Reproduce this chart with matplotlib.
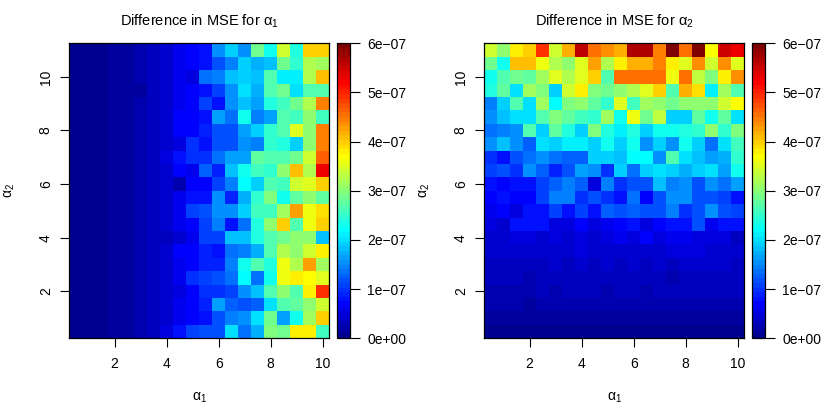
import numpy as np
import matplotlib
matplotlib.use('Agg')
import matplotlib.pyplot as plt
from matplotlib.colors import ListedColormap, Normalize

plt.rcParams['font.family'] = ['Liberation Sans', 'DejaVu Sans']
plt.rcParams['mathtext.fontset'] = 'custom'
plt.rcParams['mathtext.rm'] = 'Liberation Sans'
plt.rcParams['mathtext.it'] = 'Liberation Sans'
plt.rcParams['mathtext.bf'] = 'Liberation Sans'

# ---------------- data ----------------
alpha1 = [0.5, 1.0, 1.5, 2.0, 2.5, 3.0, 3.5, 4.0, 4.5, 5.0,
          5.5, 6.0, 6.5, 7.0, 7.5, 8.0, 8.5, 9.0, 9.5, 10.0]
alpha2 = [0.5, 1.0, 1.5, 2.0, 2.5, 3.0, 3.5, 4.0, 4.5, 5.0, 5.5,
          6.0, 6.5, 7.0, 7.5, 8.0, 8.5, 9.0, 9.5, 10.0, 10.5, 11.0]
value_unit = 1e-7

# rows listed from top (alpha2 = 11) to bottom (alpha2 = 0.5), values in units of 1e-7
mse_diff_alpha1 = [
    [0.05,0.05,0.07,0.1,0.15,0.22,0.3,0.45,0.6,0.72,0.82,1.5,1.88,1.58,2.85,2.25,3.45,2.4,3.98,4.02],
    [0.05,0.05,0.07,0.1,0.15,0.22,0.3,0.42,0.6,0.72,0.75,1.13,1.43,1.95,1.73,1.8,2.85,2.48,3.23,3.15],
    [0.05,0.05,0.07,0.1,0.14,0.2,0.3,0.42,0.58,0.5,1.35,1.43,1.8,1.95,1.8,2.7,2.1,2.1,3.23,4.1],
    [0.05,0.05,0.07,0.1,0.14,0.18,0.3,0.4,0.58,0.68,0.83,1.05,1.5,2.03,1.73,2.7,2.85,2.03,2.63,2.63],
    [0.05,0.05,0.07,0.1,0.15,0.2,0.3,0.45,0.6,0.7,1.05,0.8,1.5,1.8,1.65,2.4,2.55,2.85,3.23,4.43],
    [0.05,0.05,0.07,0.1,0.15,0.2,0.3,0.45,0.7,0.68,0.75,1.65,1.35,2.25,1.43,1.65,2.63,2.55,3.08,2.55],
    [0.05,0.05,0.07,0.1,0.14,0.2,0.3,0.45,0.68,0.72,0.9,1.2,1.13,1.65,1.95,2.48,2.7,3.53,3.08,4.43],
    [0.05,0.05,0.07,0.1,0.14,0.2,0.3,0.4,0.55,0.95,0.83,1.2,1.13,1.5,1.43,2.48,2.4,1.95,3.08,4.43],
    [0.05,0.05,0.07,0.1,0.14,0.2,0.35,0.5,0.78,0.95,0.95,1.35,1.65,1.65,2.78,2.7,2.7,2.85,3.38,4.65],
    [0.05,0.05,0.07,0.1,0.15,0.2,0.3,0.45,0.68,0.6,1.28,0.9,1.8,2.25,2.55,2.48,3.08,4.05,3.23,5.25],
    [0.05,0.05,0.07,0.1,0.14,0.2,0.3,0.45,0.2,0.68,0.7,1.05,1.43,2.2,1.95,2.7,2.55,3.38,3.53,3.98],
    [0.05,0.05,0.07,0.1,0.14,0.2,0.3,0.45,0.62,0.75,0.8,1.5,0.9,1.73,2.48,2.93,2.3,2.78,3.08,2.78],
    [0.05,0.05,0.07,0.1,0.14,0.2,0.3,0.45,0.58,1.05,1.2,1.58,1.58,1.88,2.55,2.55,3.15,4.28,3.6,3.9],
    [0.05,0.05,0.07,0.1,0.15,0.2,0.3,0.4,0.58,0.68,1.05,1.43,0.83,1.35,2.4,3.0,3.98,2.7,3.6,3.98],
    [0.05,0.05,0.07,0.1,0.14,0.2,0.3,0.35,0.4,0.62,1.05,1.05,1.8,1.8,2.4,2.7,2.85,3.0,3.08,1.8],
    [0.05,0.05,0.07,0.1,0.14,0.2,0.3,0.45,0.68,0.72,0.9,0.75,1.35,1.43,1.73,2.7,3.23,3.08,3.45,3.75],
    [0.05,0.05,0.07,0.1,0.14,0.2,0.3,0.45,0.62,0.72,0.9,0.9,1.43,2.25,2.63,2.4,3.6,3.23,4.28,3.15],
    [0.05,0.05,0.07,0.1,0.14,0.2,0.3,0.42,0.58,0.95,1.05,1.13,1.35,2.2,1.35,2.25,3.6,3.75,3.68,3.53],
    [0.05,0.05,0.07,0.1,0.14,0.2,0.3,0.42,0.52,0.72,0.98,0.98,1.05,1.5,1.8,2.7,3.08,2.63,3.75,4.88],
    [0.05,0.05,0.07,0.1,0.15,0.2,0.3,0.42,0.58,0.68,0.9,1.65,1.28,1.2,1.28,2.03,2.63,2.78,3.08,3.45],
    [0.05,0.05,0.07,0.1,0.15,0.2,0.3,0.42,0.6,0.72,0.75,1.13,1.43,1.58,2.03,2.85,1.65,2.25,3.15,3.98],
    [0.05,0.05,0.07,0.1,0.15,0.22,0.35,0.48,0.75,1.05,1.13,1.13,2.0,1.35,1.73,2.93,2.85,3.75,3.75,2.55],
]

mse_diff_alpha2 = [
    [3.45,3.0,3.75,3.98,4.88,3.45,4.13,5.55,4.58,4.35,4.2,5.63,5.63,4.43,5.93,4.58,5.93,3.68,5.48,5.25],
    [2.85,2.25,4.05,4.05,3.6,3.23,3.0,3.53,4.28,3.23,3.75,4.13,4.13,4.43,3.75,3.53,4.35,3.45,4.35,3.53],
    [2.33,2.63,2.85,2.78,3.15,3.53,3.23,3.53,3.98,2.7,4.58,4.58,4.58,4.5,3.6,4.5,3.3,2.93,3.75,4.35],
    [2.4,2.78,2.03,3.15,2.93,1.95,3.45,3.75,2.93,2.85,3.08,3.23,3.53,3.98,2.7,4.13,3.9,2.1,3.15,2.7],
    [1.43,1.95,2.7,2.03,3.15,2.18,2.93,3.0,2.78,2.48,3.53,2.55,3.15,3.0,2.85,3.0,3.08,3.0,3.38,3.68],
    [1.58,1.8,2.03,2.03,2.7,2.93,2.78,2.55,2.48,3.15,2.25,3.6,2.85,3.3,1.88,1.95,2.78,2.25,2.78,2.03],
    [1.35,1.43,1.5,2.63,1.95,2.78,2.4,1.95,2.93,2.4,2.1,2.4,1.95,2.33,2.33,2.4,2.48,3.0,2.48,2.93],
    [1.5,1.8,1.58,1.28,2.03,1.95,2.1,2.1,1.88,2.25,1.95,2.25,1.58,1.95,1.58,2.33,1.88,1.35,2.03,2.55],
    [0.98,0.83,1.2,1.35,1.58,1.35,1.28,1.28,1.95,1.95,1.8,2.18,2.18,1.5,2.63,2.03,1.8,1.65,1.73,2.48],
    [1.05,1.13,0.98,1.5,1.28,0.9,1.2,1.65,1.5,0.98,1.88,1.35,1.95,2.03,1.88,1.73,1.88,2.03,1.65,2.25],
    [0.75,0.68,0.83,0.75,1.05,1.28,1.43,1.28,0.53,1.43,0.98,1.2,1.2,1.8,1.43,1.58,1.2,1.58,1.35,1.65],
    [0.68,0.83,0.68,0.68,1.05,1.43,1.43,0.98,1.13,0.98,0.75,1.35,0.68,1.2,1.58,1.58,1.13,1.2,1.05,0.75],
    [0.6,0.68,0.53,0.75,0.75,1.05,0.75,1.05,0.75,1.28,1.13,1.28,1.13,1.13,1.43,0.98,1.2,1.58,1.2,1.05],
    [0.53,0.45,0.75,0.75,0.75,0.53,0.53,0.68,0.53,0.6,0.68,0.75,0.53,0.68,0.75,0.83,1.2,0.6,0.75,0.75],
    [0.45,0.38,0.53,0.53,0.45,0.53,0.45,0.53,0.38,0.53,0.6,0.53,0.68,0.53,0.6,0.6,0.53,0.53,0.53,0.3],
    [0.38,0.45,0.45,0.4,0.45,0.45,0.4,0.55,0.45,0.38,0.45,0.4,0.45,0.45,0.5,0.55,0.5,0.45,0.4,0.45],
    [0.35,0.3,0.35,0.35,0.35,0.4,0.35,0.4,0.35,0.4,0.35,0.4,0.35,0.45,0.3,0.45,0.45,0.4,0.45,0.35],
    [0.3,0.3,0.3,0.25,0.3,0.3,0.35,0.35,0.35,0.35,0.35,0.3,0.35,0.3,0.25,0.35,0.35,0.35,0.35,0.35],
    [0.28,0.25,0.25,0.28,0.3,0.25,0.3,0.3,0.3,0.28,0.3,0.3,0.25,0.3,0.3,0.3,0.3,0.3,0.3,0.3],
    [0.2,0.2,0.2,0.18,0.2,0.2,0.2,0.22,0.2,0.2,0.2,0.2,0.2,0.2,0.2,0.22,0.2,0.2,0.2,0.2],
    [0.15,0.14,0.15,0.15,0.15,0.14,0.15,0.15,0.15,0.15,0.15,0.15,0.15,0.15,0.15,0.15,0.15,0.15,0.15,0.15],
    [0.08,0.08,0.08,0.08,0.08,0.08,0.08,0.08,0.08,0.08,0.08,0.08,0.08,0.08,0.08,0.08,0.08,0.08,0.08,0.08],
]

x_ticks = [2, 4, 6, 8, 10]
y_ticks = [2, 4, 6, 8, 10]
cbar_ticks = [0, 1e-7, 2e-7, 3e-7, 4e-7, 5e-7, 6e-7]
cbar_labels = ['0e+00', '1e\u221207', '2e\u221207', '3e\u221207', '4e\u221207', '5e\u221207', '6e\u221207']
z_limits = [0, 6e-7]
titles = [r'Difference in MSE for $\alpha_1$', r'Difference in MSE for $\alpha_2$']
x_label = r'$\alpha_1$'
y_label = r'$\alpha_2$'

# ---------------- colormap (tim.colors-like, 64 levels) ----------------
cols = []
for k in range(8):
    cols.append((0, 0, (0x8F + 0x10 * k) / 255))
for k in range(1, 17):
    cols.append((0, min(0x10 * k, 255) / 255, 1))
for k in range(1, 17):
    cols.append((min(0x10 * k, 255) / 255, 1, max(255 - 0x10 * k, 0) / 255))
for k in range(1, 17):
    cols.append((1, max(255 - 0x10 * k, 0) / 255, 0))
for k in range(1, 9):
    cols.append(((255 - 0x10 * k) / 255, 0, 0))
cmap = ListedColormap(cols)
norm = Normalize(vmin=z_limits[0], vmax=z_limits[1])


def edges(c):
    c = np.asarray(c, dtype=float)
    step = c[1] - c[0]
    return np.append(c - step / 2, c[-1] + step / 2)


W, H = 830, 408
fig = plt.figure(figsize=(W / 100, H / 100), dpi=100)


def fx(px):
    return px / W


def fy(py):
    return 1 - py / H


panel_top, panel_bot = 43.3, 338.3
panels = [
    (69.0, 329.3, 337.3, 350.0, mse_diff_alpha1, titles[0]),
    (484.0, 744.3, 752.3, 765.0, mse_diff_alpha2, titles[1]),
]

for (x0, x1, c0, c1, rows, title) in panels:
    ax = fig.add_axes([fx(x0), fy(panel_bot), fx(x1) - fx(x0), fy(panel_top) - fy(panel_bot)])
    Z = np.array(rows[::-1]) * value_unit
    m = ax.pcolormesh(edges(alpha1), edges(alpha2), Z, cmap=cmap, norm=norm,
                      shading='flat', antialiased=False, linewidth=0)
    ax.set_xlim(edges(alpha1)[0], edges(alpha1)[-1])
    ax.set_ylim(edges(alpha2)[0], edges(alpha2)[-1])
    ax.set_xticks(x_ticks)
    ax.set_yticks(y_ticks)
    ax.set_xticklabels([str(t) for t in x_ticks])
    ax.set_yticklabels([str(t) for t in y_ticks], rotation=90, va='center')
    ax.tick_params(axis='both', direction='out', length=6.2, width=0.8, labelsize=10, colors='black')
    ax.tick_params(axis='x', pad=7.3)
    ax.tick_params(axis='y', pad=5.5)
    for s in ax.spines.values():
        s.set_linewidth(0.9)
        s.set_color('black')

    fig.text(fx((x0 + x1) / 2), fy(21), title, ha='center', va='center', fontsize=10.5)
    fig.text(fx((x0 + x1) / 2), fy(398), x_label, ha='center', va='center', fontsize=10)
    fig.text(fx(x0 - 59.5), fy((panel_top + panel_bot) / 2), y_label, ha='center', va='center',
             rotation=90, fontsize=10)

    cax = fig.add_axes([fx(c0), fy(panel_bot), fx(c1) - fx(c0), fy(panel_top) - fy(panel_bot)])
    cb = fig.colorbar(m, cax=cax, ticks=cbar_ticks)
    cb.ax.set_yticklabels(cbar_labels)
    cb.ax.tick_params(direction='out', length=7, width=0.8, labelsize=10, pad=5.5, colors='black')
    cb.outline.set_linewidth(0.9)
    cb.outline.set_edgecolor('black')

fig.savefig('out.png', dpi=100)
